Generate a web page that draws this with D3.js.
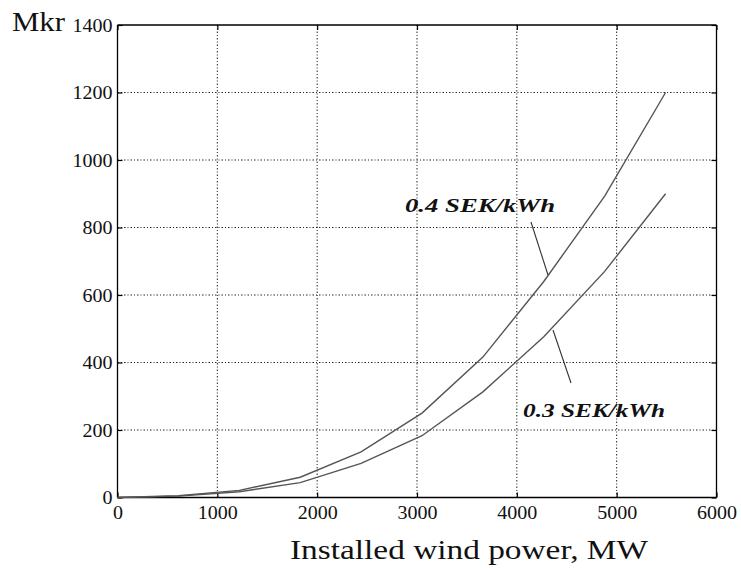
<!DOCTYPE html>
<html>
<head>
<meta charset="utf-8">
<script src="https://cdn.jsdelivr.net/npm/d3@7"></script>
<style>
  html, body { margin: 0; padding: 0; background: #fff; }
  svg { display: block; }
  text { font-family: "Liberation Serif", "DejaVu Serif", serif; fill: #111; }
</style>
</head>
<body>
<svg id="chart" width="741" height="568"></svg>
<script>
// Installed wind power (MW) at each computed point
const power = [0, 610, 1220, 1830, 2440, 3050, 3660, 4270, 4880, 5490];
// Accumulated value (Mkr) for two electricity prices
const value04 = [0, 5, 21, 60, 135, 250, 416, 640, 893, 1200];
const value03 = [0, 4, 17, 44, 101, 183, 313, 476, 670, 900];

const xTicks = [0, 1000, 2000, 3000, 4000, 5000, 6000];
const yTicks = [0, 200, 400, 600, 800, 1000, 1200, 1400];

const seriesLabels = ["0.4 SEK/kWh", "0.3 SEK/kWh"];

const svg = d3.select("#chart");
const plotLeft = 117.5, plotRight = 716.5, plotTop = 25, plotBottom = 497.5;

const x = d3.scaleLinear().domain([0, 6000]).range([plotLeft, plotRight]);
const y = d3.scaleLinear().domain([0, 1400]).range([plotBottom, plotTop]);

// grid
const grid = svg.append("g").attr("stroke", "#222").attr("stroke-width", 1)
  .attr("stroke-dasharray", "1.5,2,1,2");
grid.selectAll("line.v").data(xTicks.slice(1, -1)).join("line")
  .attr("class", "v")
  .attr("x1", d => x(d)).attr("x2", d => x(d))
  .attr("y1", plotTop).attr("y2", plotBottom);
grid.selectAll("line.h").data(yTicks.slice(1, -1)).join("line")
  .attr("class", "h")
  .attr("y1", d => y(d)).attr("y2", d => y(d))
  .attr("x1", plotLeft).attr("x2", plotRight);

// axes with inward ticks
const fontSize = 19;
const axB = svg.append("g").attr("transform", `translate(0,${plotBottom})`)
  .call(d3.axisBottom(x).tickValues(xTicks).tickSize(-5).tickPadding(8).tickFormat(d3.format("d")));
const axT = svg.append("g").attr("transform", `translate(0,${plotTop})`)
  .call(d3.axisTop(x).tickValues(xTicks).tickSize(-5).tickFormat(""));
const axL = svg.append("g").attr("transform", `translate(${plotLeft},0)`)
  .call(d3.axisLeft(y).tickValues(yTicks).tickSize(-5).tickPadding(5).tickFormat(d3.format("d")));
const axR = svg.append("g").attr("transform", `translate(${plotRight},0)`)
  .call(d3.axisRight(y).tickValues(yTicks).tickSize(-5).tickFormat(""));

[axB, axT, axL, axR].forEach(a => {
  a.attr("font-family", "Liberation Serif, serif");
  a.select(".domain").attr("stroke", "#000").attr("stroke-width", 1.3);
  a.selectAll(".tick line").attr("stroke", "#000").attr("stroke-width", 1.2);
  a.selectAll(".tick text")
    .style("font-family", "'Liberation Serif', serif")
    .attr("font-size", fontSize).attr("fill", "#222")
    .attr("textLength", d => String(d).length * 10).attr("lengthAdjust", "spacingAndGlyphs");
});
axB.select(".domain").attr("d", `M${plotLeft},0H${plotRight}`);
axT.select(".domain").attr("d", `M${plotLeft},0H${plotRight}`);
axL.select(".domain").attr("d", `M0,${plotTop}V${plotBottom}`);
axR.select(".domain").attr("d", `M0,${plotTop}V${plotBottom}`);

// curves
const line = d3.line().x(d => x(d[0])).y(d => y(d[1]));
[value04, value03].forEach(vals => {
  svg.append("path")
    .datum(power.map((p, i) => [p, vals[i]]))
    .attr("d", line)
    .attr("fill", "none")
    .attr("stroke", "#555")
    .attr("stroke-width", 1.4);
});

// series labels with leader lines
svg.append("text").attr("x", 405).attr("y", 212)
  .attr("font-size", 18).attr("font-style", "italic").attr("font-weight", "bold")
  .attr("textLength", 150).attr("lengthAdjust", "spacingAndGlyphs")
  .text(seriesLabels[0]);
svg.append("line").attr("x1", 531).attr("y1", 222).attr("x2", 548).attr("y2", 275)
  .attr("stroke", "#333").attr("stroke-width", 1.1);

svg.append("text").attr("x", 523).attr("y", 417)
  .attr("font-size", 18).attr("font-style", "italic").attr("font-weight", "bold")
  .attr("textLength", 142).attr("lengthAdjust", "spacingAndGlyphs")
  .text(seriesLabels[1]);
svg.append("line").attr("x1", 553).attr("y1", 330).attr("x2", 571).attr("y2", 383)
  .attr("stroke", "#333").attr("stroke-width", 1.1);

// axis titles
svg.append("text").attr("x", 12).attr("y", 31).attr("font-size", 27)
  .attr("textLength", 53).attr("lengthAdjust", "spacingAndGlyphs").text("Mkr");
svg.append("text").attr("x", 290).attr("y", 559)
  .attr("font-size", 27).attr("textLength", 358).attr("lengthAdjust", "spacingAndGlyphs")
  .text("Installed wind power, MW");
</script>
</body>
</html>
